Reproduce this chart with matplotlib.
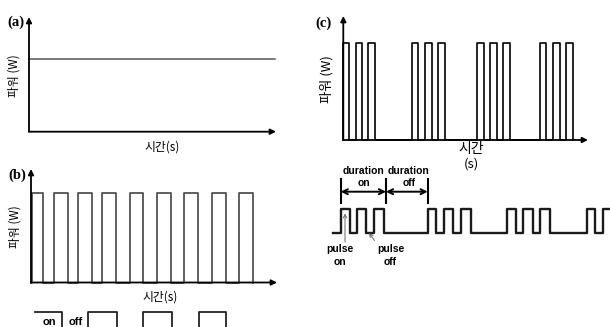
import matplotlib
matplotlib.use("Agg")
import matplotlib.pyplot as plt

KR = ["Noto Sans CJK KR", "DejaVu Sans"]

# (a) constant power level
a_level = 59

# (b) repeating on/off pulses: rise and fall times
b_rise = [31.7, 54.3, 78.3, 102.3, 129.7, 156.7, 184.3, 211.7, 239.3]
b_fall = [43.3, 68.3, 92.3, 116.3, 143.3, 171.0, 198.3, 225.7, 253.3]

# on/off detail under (b)
bz_rise = [88.3, 143.3, 199.0]
bz_fall = [61.7, 116.7, 171.7, 226.0]

# (c) pulse groups
c_rise = [343.3, 355.7, 368.3, 411.7, 425.0, 438.0, 477.3, 490.3, 503.3, 540.0, 553.0, 566.0]
c_fall = [349.3, 361.7, 375.0, 418.3, 431.7, 445.0, 484.0, 497.0, 510.0, 546.3, 559.7, 572.7]

# (c) lower waveform
w_rise = [340.7, 356.7, 373.7, 428.0, 443.7, 461.0, 506.7, 523.3, 540.0, 586.7, 603.3]
w_fall = [350.0, 365.7, 384.0, 436.0, 453.3, 471.0, 515.7, 532.7, 550.0, 595.0]
dur_marks = [340.7, 386.0, 427.7]


def step_path(rise, fall, base, top, x0, x1, start_high=False):
    xs = [x0]
    ys = [top if start_high else base]
    edges = sorted([(r, 1) for r in rise] + [(f, 0) for f in fall])
    for x, up in edges:
        xs += [x, x]
        ys += [base, top] if up else [top, base]
    xs.append(x1)
    ys.append(ys[-1])
    return xs, ys


def axis_arrow(ax, x0, y0, x1, y1):
    ax.annotate("", xy=(x1, y1), xytext=(x0, y0),
                arrowprops=dict(arrowstyle="-|>", lw=1.3, color="black",
                                mutation_scale=8, shrinkA=0, shrinkB=0))


fig = plt.figure(figsize=(6.1, 3.27), dpi=100)
ax = fig.add_axes([0, 0, 1, 1])
ax.set_xlim(0, 610)
ax.set_ylim(327, 0)
ax.axis("off")

# ---- (a)
ax.plot([29, 275], [a_level, a_level], color="#555555", lw=1.1)
axis_arrow(ax, 29, 131.7, 29, 17)
axis_arrow(ax, 29, 131.7, 276, 131.7)
ax.text(15.5, 22, "(a)", fontsize=10.5, fontweight="bold", family="Liberation Serif",
        ha="center", va="center")
ax.text(14.5, 76, "파워 (W)", fontsize=8.5, family=KR, rotation=90, ha="center", va="center")
ax.text(162, 147, "시간(s)", fontsize=8.5, family=KR, ha="center", va="center")

# ---- (b)
xs, ys = step_path(b_rise, b_fall, 282.5, 193.3, 31, 253.3)
ax.plot(xs, ys, color="#444444", lw=1.2)
axis_arrow(ax, 31, 282.5, 31, 169)
axis_arrow(ax, 31, 282.5, 277, 282.5)
ax.text(17, 175, "(b)", fontsize=10.5, fontweight="bold", family="Liberation Serif",
        ha="center", va="center")
ax.text(15, 227, "파워 (W)", fontsize=8.5, family=KR, rotation=90, ha="center", va="center")
ax.text(160, 297.5, "시간(s)", fontsize=8.5, family=KR, ha="center", va="center")

xs, ys = step_path(bz_rise, bz_fall, 340, 311.7, 35, 226, start_high=True)
ax.plot(xs, ys, color="#222222", lw=1.3)
sb = dict(fontsize=8, fontweight="bold", family="Liberation Sans", ha="center", va="center")
ax.text(49.5, 322, "on", **sb)
ax.text(76, 322, "off", **sb)

# ---- (c)
xs, ys = step_path(c_rise, c_fall, 140, 42.7, 343.3, 572.7)
ax.plot(xs, ys, color="black", lw=1.2)
axis_arrow(ax, 343.3, 140, 343.3, 16)
axis_arrow(ax, 343.3, 140, 588, 140)
ax.text(323.5, 23, "(c)", fontsize=10.5, fontweight="bold", family="Liberation Serif",
        ha="center", va="center")
ax.text(327, 79, "파워 (W)", fontsize=9.5, family=KR, rotation=90, ha="center", va="center")
ax.text(471, 149, "시간", fontsize=10, family=KR, ha="center", va="center")
ax.text(471.5, 164.5, "(s)", fontsize=9.5, family=KR, ha="center", va="center")

xs, ys = step_path(w_rise, w_fall, 232.7, 208.7, 332.7, 612)
ax.plot(xs, ys, color="#1a1a1a", lw=1.7)

for x in dur_marks:
    ax.plot([x, x], [179, 203], color="black", lw=1.5)
for x0, x1 in zip(dur_marks[:-1], dur_marks[1:]):
    ax.annotate("", xy=(x1, 191.7), xytext=(x0, 191.7),
                arrowprops=dict(arrowstyle="<->", lw=1.4, color="black",
                                mutation_scale=9, shrinkA=0, shrinkB=0))

lab = dict(fontsize=7.5, fontweight="bold", family="Liberation Sans", ha="center", va="center")
ax.text(363.3, 170.5, "duration", **lab)
ax.text(409, 170.5, "duration", **lab)
ax.text(363.5, 183, "on", **lab)
ax.text(409.5, 183, "off", **lab)
ax.text(340.3, 249.3, "pulse", **lab)
ax.text(340.3, 262, "on", **lab)
ax.text(390.7, 249.3, "pulse", **lab)
ax.text(390.5, 262, "off", **lab)

ax.annotate("", xy=(345, 213.5), xytext=(345, 242),
            arrowprops=dict(arrowstyle="->", lw=0.7, color="#666666",
                            mutation_scale=6, shrinkA=0, shrinkB=0))
ax.annotate("", xy=(369, 233), xytext=(374.5, 240.5),
            arrowprops=dict(arrowstyle="->", lw=0.7, color="#666666",
                            mutation_scale=6, shrinkA=0, shrinkB=0))

fig.savefig("out.png", dpi=100)
